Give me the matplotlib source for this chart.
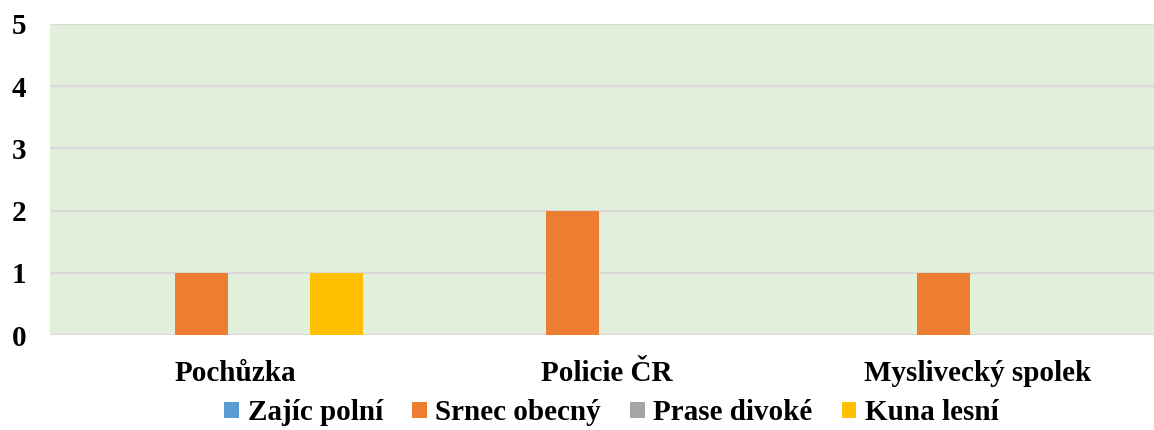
#!/usr/bin/env python3
"""Bar chart of animals by source of report."""

import matplotlib.pyplot as plt
import numpy as np

# Data
categories = ['Pochůzka', 'Policie ČR', 'Myslivecký spolek']
series_names = ['Zajíc polní', 'Srnec obecný', 'Prase divoké', 'Kuna lesní']
zajic = [0, 0, 0]
srnec = [1, 2, 1]
prase = [0, 0, 0]
kuna = [1, 0, 0]
colors = ['#5B9BD5', '#ED7D31', '#A5A5A5', '#FFC000']

plt.rcParams['font.family'] = ['Liberation Serif', 'DejaVu Serif']
plt.rcParams['font.weight'] = 'bold'

fig = plt.figure(figsize=(11.54, 4.30), dpi=100)
ax = fig.add_axes([50 / 1154, 1 - 335 / 430, 1113 / 1154, 311 / 430])
ax.set_facecolor('#E2EFDA')

x = np.arange(len(categories))
slot = 0.182
width = 0.143
for i, (vals, name) in enumerate(zip([zajic, srnec, prase, kuna], series_names)):
    ax.bar(x + (i - 1.5) * slot, vals, width, color=colors[i], label=name, zorder=3)

ax.set_xlim(-0.5, 2.5)
ax.set_ylim(0, 5)
ax.set_yticks(range(6))
ax.grid(axis='y', color='#D9D9D9', linewidth=1.6, zorder=1)
ax.set_axisbelow(True)
for s in ax.spines.values():
    s.set_visible(False)
ax.tick_params(axis='both', length=0)
ax.tick_params(axis='y', labelsize=21, pad=17)
ax.tick_params(axis='x', labelsize=21, pad=18)
ax.set_xticks(x)
ax.set_xticklabels(categories, fontweight='bold')
for lbl in ax.get_yticklabels():
    lbl.set_fontweight('bold')

fig.legend(loc='center', bbox_to_anchor=(0.530, 1 - 413 / 430), ncol=4,
           frameon=False, prop={'size': 21, 'weight': 'bold'},
           handlelength=0.5, handleheight=0.5, handletextpad=0.3,
           columnspacing=1.0)

fig.savefig('out.png', dpi=100)
